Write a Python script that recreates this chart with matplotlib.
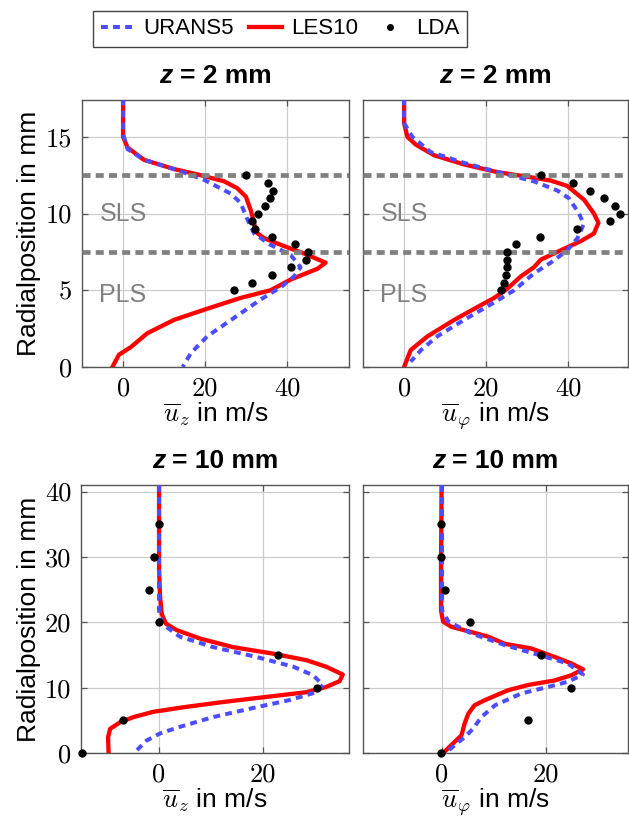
import matplotlib
matplotlib.use('Agg')
import matplotlib.pyplot as plt
from matplotlib.offsetbox import TextArea, HPacker, AnchoredOffsetbox
from matplotlib.lines import Line2D

plt.rcParams['font.family'] = ['Liberation Sans', 'DejaVu Sans']
plt.rcParams['mathtext.fontset'] = 'cm'

# ---- data (radial position r in mm, velocity in m/s) ----
# z = 2 mm, axial velocity
uz2_les_u = [0, 0, 1.1, 5.1, 12.4, 18.9, 24.6, 27.8, 29.9, 31.1, 31.9, 32.3, 34.3, 38.4, 44.0,
             49.3, 47.3, 40.8, 35.9, 28.6, 20.5, 12.4, 5.9, 1.9, -1.0, -2.6]
uz2_les_r = [17.5, 15.0, 14.3, 13.5, 12.9, 12.5, 12.1, 11.65, 11.1, 10.2, 9.4, 8.8, 8.4, 7.96, 7.4,
             6.8, 6.4, 5.7, 5.0, 4.5, 3.8, 3.07, 2.2, 1.3, 0.8, 0.0]
uz2_urans_u = [0, 0, 1.1, 5.1, 12.4, 19.7, 26.2, 28.6, 30.3, 31.9, 35.9, 40.8, 43.2, 41.6, 38.4,
               33.5, 27.0, 20.5, 16.5, 14.5]
uz2_urans_r = [17.5, 15.2, 14.2, 13.5, 12.9, 12.2, 11.3, 10.7, 9.6, 8.7, 7.96, 7.3, 6.5, 5.9, 5.2,
               4.4, 3.2, 2.0, 0.9, 0.0]
uz2_lda_u = [30.0, 35.3, 36.5, 35.7, 34.5, 32.9, 31.5, 32.0, 36.3, 41.9, 44.9, 44.5, 41.0, 36.2, 31.5, 27.0]
lda2_r = [12.5, 12.0, 11.5, 11.0, 10.5, 10.0, 9.5, 9.0, 8.5, 8.0, 7.5, 7.0, 6.5, 6.0, 5.5, 5.0]

# z = 2 mm, tangential velocity
uphi2_les_u = [0, 0, 0.8, 2.8, 7.3, 14.6, 22.7, 30.0, 35.7, 39.7, 43.8, 46.2, 47.3, 46.2, 43.0,
               38.9, 36.5, 33.3, 31.6, 28.4, 25.1, 21.9, 17.8, 12.2, 5.7, 1.6, 0]
uphi2_les_r = [17.5, 15.9, 15.0, 14.5, 13.8, 13.2, 12.7, 12.4, 12.15, 11.8, 10.9, 10.0, 9.4, 8.7, 8.2,
               7.7, 7.4, 7.0, 6.5, 5.9, 5.1, 4.5, 3.9, 3.07, 2.0, 1.1, 0.0]
uphi2_urans_u = [0, 0, 2.0, 6.5, 14.6, 24.3, 31.6, 37.3, 40.1, 42.6, 43.7, 42.2, 39.7, 35.7, 31.6,
                 26.8, 21.9, 14.6, 8.1, 4.1, 1.6]
uphi2_urans_r = [17.5, 15.9, 15.0, 14.0, 13.3, 12.6, 12.1, 11.5, 11.0, 10.0, 9.3, 8.4, 7.6, 6.8, 6.1,
                 5.0, 4.2, 3.07, 2.0, 1.1, 0.35]
uphi2_lda_u = [33.4, 41.1, 45.3, 48.7, 51.3, 52.6, 50.0, 42.0, 33.1, 27.2, 25.1, 25.1, 25.1, 24.9, 24.3, 23.7]

# z = 10 mm, axial velocity
uz10_les_u = [0, 0, 0.2, 0.5, 1.3, 3.4, 7.9, 14.2, 21.9, 28.3, 32.1, 35.3, 34.7, 32.1, 28.3, 21.9,
              12.3, 4.7, -1.1, -4.9, -7.5, -9.4, -9.8, -9.7]
uz10_les_r = [41, 28, 23.9, 21.3, 19.8, 18.8, 17.5, 16.2, 15.2, 14.2, 13.2, 12.0, 11.0, 10.1, 9.3, 8.7,
              7.8, 7.0, 6.3, 5.5, 4.7, 3.7, 2.4, 0.0]
uz10_urans_u = [0, 0, 0.5, 4.0, 10.4, 18.7, 25.8, 29.6, 31.5, 30.2, 25.1, 18.7, 10.4, 4.0, 0.2, -2.4, -4.3]
uz10_urans_r = [41, 21.8, 19.8, 17.8, 16.2, 14.7, 13.2, 11.9, 10.4, 9.3, 8.1, 7.0, 5.5, 4.0, 3.0, 1.9, 0.4]
uz10_lda_u = [-0.1, -0.9, -1.9, -0.1, 22.9, 30.4, -7.0, -14.8]
lda10_r = [35, 30, 25, 20, 15, 10, 5, 0]

# z = 10 mm, tangential velocity
uphi10_les_u = [0, -0.1, -0.1, 0.3, 1.9, 5.7, 8.9, 12.1, 17.1, 21.6, 24.8, 27.0, 24.8, 21.6, 16.5,
                12.7, 8.3, 6.3, 5.1, 4.4, 3.8, 2.5, 0.5, 0]
uphi10_les_r = [41, 28, 21.8, 20.1, 19.3, 18.5, 17.8, 16.7, 16.0, 14.7, 13.7, 12.8, 11.9, 11.1, 10.4,
                9.6, 8.1, 7.3, 6.0, 4.5, 2.7, 1.7, 0.15, 0.0]
uphi10_urans_u = [0.1, 0.1, 1.3, 5.7, 12.1, 19.0, 24.1, 27.0, 24.1, 20.3, 15.2, 10.2, 7.6, 6.0, 4.4, 2.5, 1.0]
uphi10_urans_r = [41, 21.8, 20.1, 18.3, 16.5, 14.9, 13.7, 12.0, 10.9, 10.1, 9.1, 7.3, 5.5, 3.7, 2.4, 1.2, 0.15]
uphi10_lda_u = [-0.1, -0.1, 0.6, 5.4, 19.0, 24.8, 16.5, -0.1]

layer_r = [7.5, 12.5]

BLUE = '#4d4dff'
RED = '#ff0000'
FS = 19

W, H = 629, 818
fig = plt.figure(figsize=(W / 100, H / 100), dpi=100)


def px_axes(l, t, r, b):
    return fig.add_axes([l / W, 1 - b / H, (r - l) / W, (b - t) / H])


ax_tl = px_axes(82, 100, 349, 367)
ax_tr = px_axes(363, 100, 628, 367)
ax_bl = px_axes(81, 485, 349, 753)
ax_br = px_axes(363, 485, 628, 753)


def style(ax, xlim, ylim, xt, yt, xlabel, ylabel, ticklabels_y):
    ax.set_xlim(xlim)
    ax.set_ylim(ylim)
    ax.set_xticks(xt)
    ax.set_xticklabels([str(v) for v in xt], fontfamily='cmr10', fontsize=FS)
    ax.set_yticks(yt)
    ax.set_yticklabels([str(v) for v in yt], fontfamily='cmr10', fontsize=FS)
    ax.grid(True, color='#cccccc', lw=0.9, zorder=0)
    ax.set_axisbelow(True)
    ax.tick_params(direction='in', top=True, right=True, length=4, width=0.9,
                   color='#555555', pad=7)
    if not ticklabels_y:
        ax.tick_params(labelleft=False)
    for s in ax.spines.values():
        s.set_color('#555555')
        s.set_linewidth(1.0)
    ax.set_xlabel(xlabel, fontsize=FS, labelpad=0)
    if ylabel:
        ax.set_ylabel('Radialposition in mm', fontsize=FS)


def title(ax, s):
    a = TextArea('z', textprops=dict(fontsize=FS, fontweight='bold', fontstyle='italic'))
    b = TextArea('= ' + s, textprops=dict(fontsize=FS, fontweight='bold'))
    box = HPacker(children=[a, b], pad=0, sep=5)
    anch = AnchoredOffsetbox(loc='lower center', child=box, pad=0, borderpad=0, frameon=False,
                             bbox_to_anchor=(0.5, 1.045), bbox_transform=ax.transAxes)
    ax.add_artist(anch)


def curves(ax, les_u, les_r, urans_u, urans_r, lda_u, lda_r):
    ax.plot(les_u, les_r, color=RED, lw=3.1, zorder=3, solid_joinstyle='round')
    ax.plot(urans_u, urans_r, color=BLUE, lw=2.9, ls=(0, (1.7, 1.3)), zorder=4)
    ax.plot(lda_u, lda_r, 'o', color='black', ms=5, zorder=6, clip_on=False)


for ax, les_u, les_r, ur_u, ur_r, lda_u in [
        (ax_tl, uz2_les_u, uz2_les_r, uz2_urans_u, uz2_urans_r, uz2_lda_u),
        (ax_tr, uphi2_les_u, uphi2_les_r, uphi2_urans_u, uphi2_urans_r, uphi2_lda_u)]:
    curves(ax, les_u, les_r, ur_u, ur_r, lda_u, lda2_r)
    for r in layer_r:
        ax.axhline(r, color='#808080', lw=3.4, ls=(0, (1.7, 1.1)), zorder=5)
    ax.text(0, 10, 'SLS', color='#808080', fontsize=18, ha='center', va='center', zorder=5)
    ax.text(0, 4.7, 'PLS', color='#808080', fontsize=18, ha='center', va='center', zorder=5)

curves(ax_bl, uz10_les_u, uz10_les_r, uz10_urans_u, uz10_urans_r, uz10_lda_u, lda10_r)
curves(ax_br, uphi10_les_u, uphi10_les_r, uphi10_urans_u, uphi10_urans_r, uphi10_lda_u, lda10_r)

lab_z = r'$\overline{u}_z$ in m/s'
lab_phi = r'$\overline{u}_\varphi$ in m/s'
style(ax_tl, (-10, 55), (0, 17.4), [0, 20, 40], [0, 5, 10, 15], lab_z, True, True)
style(ax_tr, (-10, 54.5), (0, 17.4), [0, 20, 40], [0, 5, 10, 15], lab_phi, False, False)
style(ax_bl, (-15, 36.5), (0, 41), [0, 20], [0, 10, 20, 30, 40], lab_z, True, True)
style(ax_br, (-15, 35.6), (0, 41), [0, 20], [0, 10, 20, 30, 40], lab_phi, False, False)

ax_tl.yaxis.set_label_coords(-0.155, 0.5)
ax_bl.yaxis.set_label_coords(-0.15, 0.5)

title(ax_tl, '2 mm')
title(ax_tr, '2 mm')
title(ax_bl, '10 mm')
title(ax_br, '10 mm')

handles = [Line2D([], [], color=BLUE, lw=2.9, ls=(0, (1.7, 1.3))),
           Line2D([], [], color=RED, lw=3.1),
           Line2D([], [], color='black', marker='o', ms=4, ls='none')]
leg = fig.legend(handles, ['URANS5', 'LES10', 'LDA'], loc='center', ncol=3,
                 bbox_to_anchor=(280 / W, 1 - 29 / H), fontsize=16, frameon=True,
                 fancybox=False, edgecolor='#444444', framealpha=1,
                 handlelength=1.5, handletextpad=0.4, columnspacing=0.7,
                 borderpad=0.35, borderaxespad=0)
leg.get_frame().set_linewidth(1.0)

fig.savefig('out.png', dpi=100)
